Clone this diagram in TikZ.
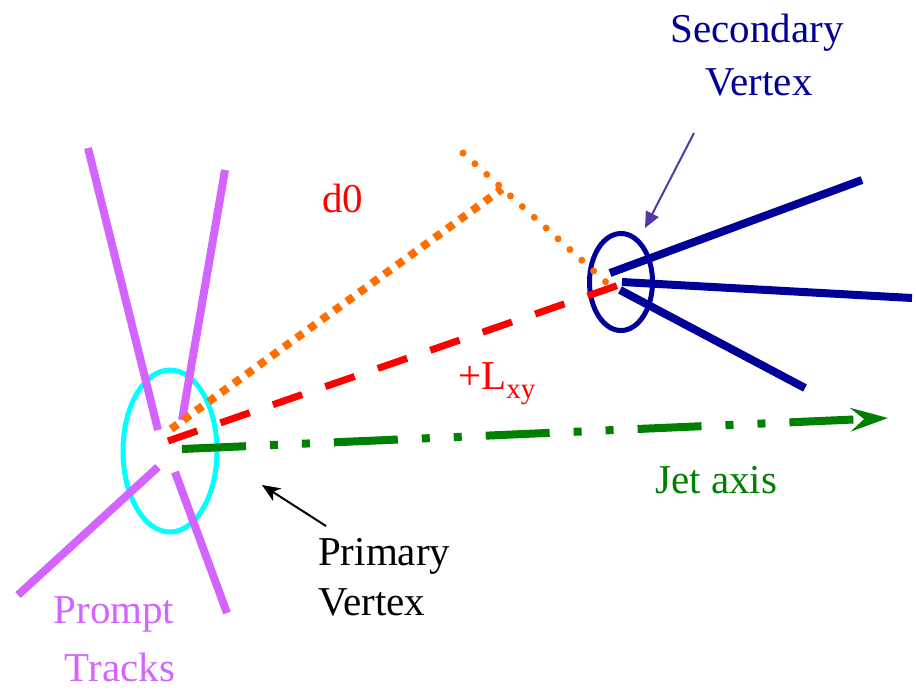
\documentclass[tikz,border=0pt]{standalone}
\usepackage{fontspec}
\setmainfont{Liberation Serif}
\usetikzlibrary{arrows.meta}

\definecolor{trackpurple}{RGB}{210,100,255}
\definecolor{svblue}{RGB}{0,0,153}
\definecolor{pvcyan}{RGB}{0,255,255}
\definecolor{dzero}{RGB}{255,110,0}
\definecolor{jetgreen}{RGB}{0,128,0}
\definecolor{svpointer}{RGB}{85,55,165}

\begin{document}
\begin{tikzpicture}[
  x=1pt,y=-1pt,
  prompt/.style={draw=trackpurple,line width=8pt},
  displaced/.style={draw=svblue,line width=8pt},
  vtx/.style={line width=5pt},
  lxy/.style={draw=red,line width=7pt,dash pattern=on 31pt off 24.5pt},
  ipsq/.style={draw=dzero,line width=8pt,dash pattern=on 8pt off 7.5pt},
  ipdot/.style={draw=dzero,line width=7pt,line cap=round,dash pattern=on 0pt off 16pt},
  jet/.style={draw=jetgreen,line width=8pt,
    dash pattern=on 64pt off 24pt on 8pt off 24pt on 8pt off 24pt},
  lbl/.style={inner sep=0pt,font=\fontsize{41}{50}\selectfont}
]
  \useasboundingbox (0,0) rectangle (916,691);

  % Vertices
  \coordinate (pv) at (170,451);
  \coordinate (sv) at (621,282);

  % Primary vertex and prompt tracks
  \draw[vtx,draw=pvcyan] (pv) ellipse[x radius=47,y radius=81];
  \draw[prompt] (88,148) -- (158,430);
  \draw[prompt] (225,170) -- (182,420);
  \draw[prompt] (158,467) -- (18,595);
  \draw[prompt] (175,472) -- (227,613);

  % Secondary vertex and displaced tracks
  \draw[vtx,draw=svblue] (sv) ellipse[x radius=31.5,y radius=48.5];
  \draw[displaced] (610,273) -- (862,180);
  \draw[displaced] (622,282) -- (912,298);
  \draw[displaced] (620,290) -- (805,388);

  % Decay length
  \draw[lxy] (168,441) -- (619,285);

  % Impact parameter
  \coordinate (foot) at (502,189);
  \draw[ipsq] (171,429) -- (foot);
  \draw[ipdot] (463,153) -- (617,292);

  % Jet axis
  \coordinate (jetstart) at (182,449);
  \coordinate (jetend) at (888,418);
  \draw[jet,-{Stealth[length=38pt,width=24pt,inset=14pt,line width=0pt]}] (jetstart) -- (jetend);

  % Labels
  \node[lbl,text=svblue,anchor=base] (svlaba) at (757,42) {Secondary};
  \node[lbl,text=svblue,anchor=base] (svlabb) at (759,95) {Vertex};
  \node[lbl,text=red,anchor=base west] (dlab) at (322,212) {d0};
  \node[lbl,text=red,anchor=base west] (llab) at (458,389)
    {+L\raisebox{-9pt}{\fontsize{29}{29}\selectfont xy}};
  \node[lbl,text=jetgreen,anchor=base west] (jetlab) at (655,493) {Jet axis};
  \node[lbl,anchor=base west] (pvlaba) at (318,565) {Primary};
  \node[lbl,anchor=base west] (pvlabb) at (318,615) {Vertex};
  \node[lbl,text=trackpurple,anchor=base] (trklaba) at (114,623) {Prompt};
  \node[lbl,text=trackpurple,anchor=base] (trklabb) at (120,681) {Tracks};

  % Pointers
  \coordinate (svtail) at (694,133);
  \coordinate (svtip) at (645,228);
  \draw[svpointer,line width=2pt,-{Triangle[length=16pt,width=14pt]}] (svtail) -- (svtip);
  \coordinate (pvtail) at (326,526);
  \coordinate (pvtip) at (262,485);
  \draw[black,line width=2pt,-{Stealth[length=18pt,width=15pt,inset=5pt]}] (pvtail) -- (pvtip);
\end{tikzpicture}
\end{document}
